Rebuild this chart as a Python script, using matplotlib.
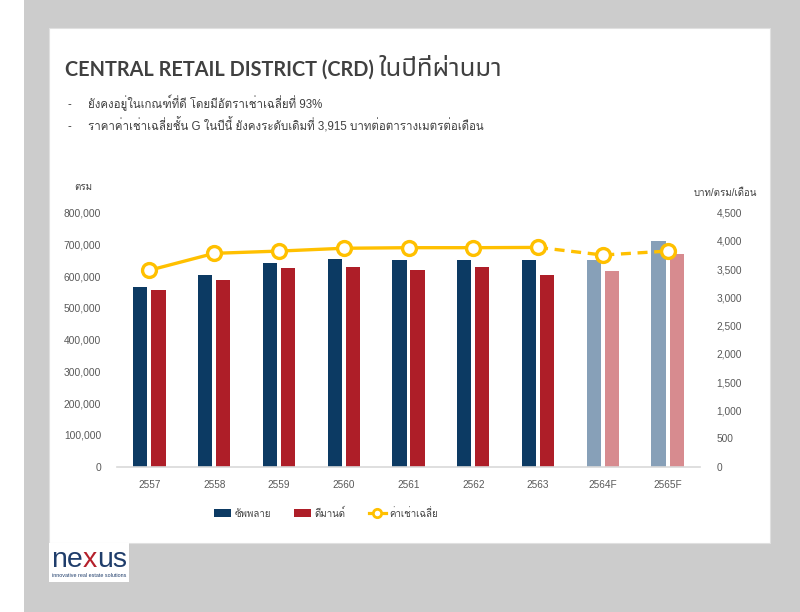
import numpy as np
import matplotlib
matplotlib.use("Agg")
import matplotlib.pyplot as plt
from matplotlib.patches import Rectangle, Patch
from matplotlib.lines import Line2D
from matplotlib.ticker import FuncFormatter

# ----------- data
years = ['2557', '2558', '2559', '2560', '2561', '2562', '2563', '2564F', '2565F']
supply = [567000, 604000, 643000, 653000, 651000, 651000, 651000, 651000, 711000]
demand = [555000, 587000, 626000, 630000, 619000, 630000, 605000, 617000, 670000]
rent = [3480, 3780, 3820, 3870, 3880, 3880, 3885, 3750, 3820]
n_actual = 7  # first 7 years are actual, rest forecast

title_en = 'CENTRAL RETAIL DISTRICT (CRD)'
title_th = 'ในปีที่ผ่านมา'
bullets = ['ยังคงอยู่ในเกณฑ์ที่ดี โดยมีอัตราเช่าเฉลี่ยที่ 93%',
           'ราคาค่าเช่าเฉลี่ยชั้น G ในปีนี้ ยังคงระดับเดิมที่ 3,915 บาทต่อตารางเมตรต่อเดือน']
legend_labels = ['ซัพพลาย', 'ดีมานด์', 'ค่าเช่าเฉลี่ย']

# ----------- style
W, H = 800, 612
blue, red = '#0c3a63', '#ae1e28'
blue_f, red_f = '#87a0b8', '#d78b8f'
gold = '#ffc000'
grey_txt = '#595959'
sans = ['Liberation Sans', 'Loma', 'DejaVu Sans']
plt.rcParams['font.family'] = sans


def fx(px):
    return px / W


def fy(py):
    return 1 - py / H


fig = plt.figure(figsize=(W / 100, H / 100), dpi=100)
fig.patch.set_facecolor('#cccccc')
# white strip on far left and slide panel
fig.patches.append(Rectangle((0, 0), fx(24), 1, transform=fig.transFigure,
                             facecolor='white', edgecolor='none', zorder=-5))
fig.patches.append(Rectangle((fx(49), fy(543)), fx(770 - 49), (543 - 28) / H,
                             transform=fig.transFigure, facecolor='white',
                             edgecolor='#e0e0e0', linewidth=0.8, zorder=-5))
r = fig.canvas.get_renderer()

# ----------- texts
t = fig.text(fx(65), fy(76), title_en, fontsize=14.3, fontweight='bold', color='#404040',
             family=['Lato', 'Open Sans'], va='baseline')
bb = t.get_window_extent(r)
fig.text(bb.x1 / W + fx(5), fy(76), title_th, fontsize=18.5, color='#404040',
         family=['Noto Sans Thai', 'Loma'], va='baseline')
for i, b in enumerate(bullets):
    yb = fy(108 + i * 22.5)
    fig.text(fx(67), yb, '-', fontsize=8.3, color='#404040', va='baseline')
    fig.text(fx(88), yb, b, fontsize=8.3, color='#404040', va='baseline')

# ----------- chart
ax = fig.add_axes([fx(117), fy(466.7), fx(700 - 117), (466.7 - 212.7) / H])
ax.set_facecolor('none')
x = np.arange(len(years))
bw = 0.22
off = 0.14
c_sup = [blue] * n_actual + [blue_f] * (len(years) - n_actual)
c_dem = [red] * n_actual + [red_f] * (len(years) - n_actual)
ax.bar(x - off, supply, bw, color=c_sup, zorder=2)
ax.bar(x + off, demand, bw, color=c_dem, zorder=2)
ax.set_xlim(-0.5, len(years) - 0.5)
ax.set_ylim(0, 800000)
ax.set_yticks(np.arange(0, 800001, 100000))
ax.yaxis.set_major_formatter(FuncFormatter(lambda v, p: f'{int(v):,}'))
ax.set_xticks(x)
ax.set_xticklabels(years)
for s in ['top', 'left', 'right']:
    ax.spines[s].set_visible(False)
ax.spines['bottom'].set_color('#d9d9d9')
ax.spines['bottom'].set_linewidth(1.2)
ax.tick_params(axis='y', length=0, pad=11.5, labelsize=7.4, labelcolor=grey_txt)
ax.tick_params(axis='x', length=0, pad=9.5, labelsize=7.2, labelcolor=grey_txt)

ax2 = ax.twinx()
ax2.set_ylim(0, 4500)
ax2.set_yticks(np.arange(0, 4501, 500))
ax2.yaxis.set_major_formatter(FuncFormatter(lambda v, p: f'{int(v):,}'))
for s in ['top', 'left', 'right', 'bottom']:
    ax2.spines[s].set_visible(False)
ax2.tick_params(axis='y', length=0, pad=12, labelsize=7.3, labelcolor=grey_txt)
ax2.plot(x[:n_actual], rent[:n_actual], color=gold, lw=2.4, zorder=3)
ax2.plot(x[n_actual - 1:], rent[n_actual - 1:], color=gold, lw=2.4, ls=(0, (3, 2)), zorder=3)
ax2.plot(x, rent, ls='none', marker='o', ms=10, mfc='white', mec=gold, mew=2.4, zorder=4)

fig.text(fx(74), fy(187), 'ตรม', fontsize=7, color='#404040', va='center')
fig.text(fx(757), fy(193), 'บาท/ตรม/เดือน', fontsize=7, color='#404040', va='center', ha='right')

# ----------- legend
handles = [Patch(facecolor=blue), Patch(facecolor=red),
           Line2D([], [], color=gold, lw=2.3, marker='o', ms=6, mfc='white', mec=gold, mew=2)]
leg = fig.legend(handles, legend_labels, loc='center left', bbox_to_anchor=(fx(214), fy(513)),
                 ncol=3, frameon=False, fontsize=7, handlelength=1.7, handleheight=0.9,
                 handletextpad=0.4, columnspacing=2.4, borderpad=0, borderaxespad=0)
for t in leg.get_texts():
    t.set_color('#404040')

# ----------- logo
fig.patches.append(Rectangle((fx(49), fy(582)), fx(129 - 49), (582 - 543) / H,
                             transform=fig.transFigure, facecolor='white',
                             edgecolor='none', zorder=-5))
lx = fx(51)
for part, col in [('ne', '#1f3d6b'), ('x', '#b5202b'), ('us', '#1f3d6b')]:
    t = fig.text(lx, fy(567), part, fontsize=20.5, color=col, va='baseline',
                 family=['Liberation Sans Narrow', 'Liberation Sans'])
    bb = t.get_window_extent(r)
    lx += bb.width / W
fig.text(fx(52), fy(577), 'innovative real estate solutions', fontsize=3.9,
         color='#1f3d6b', va='baseline', family=['Liberation Sans Narrow', 'Liberation Sans'])

fig.savefig('out.png', dpi=100, facecolor=fig.get_facecolor())
